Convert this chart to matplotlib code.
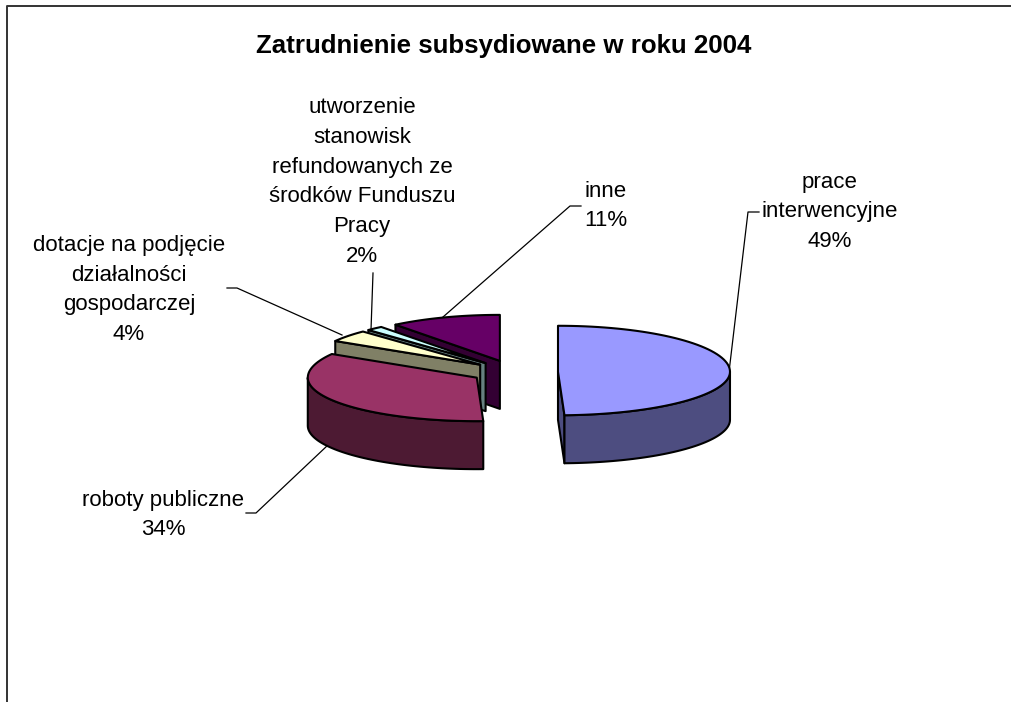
import numpy as np
import matplotlib
matplotlib.use('Agg')
import matplotlib.pyplot as plt
from matplotlib.patches import Polygon

plt.rcParams['font.family'] = ['Liberation Sans', 'DejaVu Sans']

# dane
kategorie = ['prace\ninterwencyjne', 'roboty publiczne',
             'dotacje na podjęcie\ndziałalności\ngospodarczej',
             'utworzenie\nstanowisk\nrefundowanych ze\nśrodków Funduszu\nPracy',
             'inne']
wartosci = [49.4, 34.2, 4.2, 1.6, 10.6]
kolory_gora = ['#9999FF', '#993366', '#FFFFCC', '#CCFFFF', '#660066']
kolory_bok = ['#4D4D80', '#4D1A33', '#808066', '#668080', '#330033']

# uklad wykresu w pikselach
cx, cy = 514, 372
rx_prawy, rx_lewy = 172, 169
ry_tyl, ry_przod = 46, 43.5
glebokosc = 48
wysuniecie = 44

fig = plt.figure(figsize=(10.12, 7.02), dpi=100)
ax = fig.add_axes([0, 0, 1, 1])
ax.set_xlim(0, 1012)
ax.set_ylim(702, 0)
ax.axis('off')

# ramka wykresu
ax.plot([7, 7, 1012], [702, 5.5, 5.5], color='#333333', lw=1.4, solid_capstyle='butt')

ax.text(503.5, 46, 'Zatrudnienie subsydiowane w roku 2004', fontsize=18.6, fontweight='bold',
        ha='center', va='center')


def punkt(x0, y0, kat):
    t = np.radians(kat)
    s, c = np.sin(t), np.cos(t)
    return x0 + np.where(s > 0, rx_prawy, rx_lewy) * s, y0 - np.where(c > 0, ry_tyl, ry_przod) * c


def rysuj(wycinek, a1, a2, z):
    x0, y0 = punkt(cx, cy, (a1 + a2) / 2)
    x0 = cx + (x0 - cx) * wysuniecie / rx_prawy
    y0 = cy + (y0 - cy) * wysuniecie / rx_prawy
    bok = kolory_bok[wycinek]
    styl = dict(edgecolor='black', lw=1.5, joinstyle='round', zorder=z)

    # sciany przekroju
    for kat, widoczna in ((a1, np.sin(np.radians(a1)) < -1e-6), (a2, np.sin(np.radians(a2)) > 1e-6)):
        if widoczna:
            px, py = punkt(x0, y0, kat)
            ax.add_patch(Polygon([(x0, y0), (px, py), (px, py + glebokosc), (x0, y0 + glebokosc)],
                                 facecolor=bok, **styl))

    # brzeg zewnetrzny
    b1, b2 = max(a1, 90), min(a2, 270)
    if b1 < b2:
        katy = np.linspace(b1, b2, 60)
        gx, gy = punkt(x0, y0, katy)
        ax.add_patch(Polygon(np.r_[np.c_[gx, gy], np.c_[gx, gy + glebokosc][::-1]],
                             facecolor=bok, **styl))

    # wierzch
    katy = np.linspace(a1, a2, 80)
    gx, gy = punkt(x0, y0, katy)
    ax.add_patch(Polygon(np.r_[[(x0, y0)], np.c_[gx, gy]], facecolor=kolory_gora[wycinek], **styl))


granice = np.r_[0, np.cumsum(wartosci)] / sum(wartosci) * 360
kolejnosc = [4, 3, 2, 1, 0]
for z, i in enumerate(kolejnosc):
    rysuj(i, granice[i], granice[i + 1], 2 + z)

# linie odniesienia
linie = [
    [(729, 372), (748, 212), (759, 212)],
    [(328, 445), (256, 513), (246, 513)],
    [(342, 335), (237, 288), (227, 288)],
    [(371, 330), (373, 273)],
    [(443, 317), (570, 206), (581, 206)],
]
for l in linie:
    ax.plot(*zip(*l), color='black', lw=0.9, zorder=1)

# etykiety
pozycje = [(830, 212), (163, 515), (129, 290), (362, 182), (606, 206)]
for naz, w, (x, y) in zip(kategorie, wartosci, pozycje):
    ax.text(x, y, f'{naz}\n{round(w)}%', fontsize=16, ha='center', va='center', linespacing=1.54)

fig.savefig('out.png', dpi=100)
